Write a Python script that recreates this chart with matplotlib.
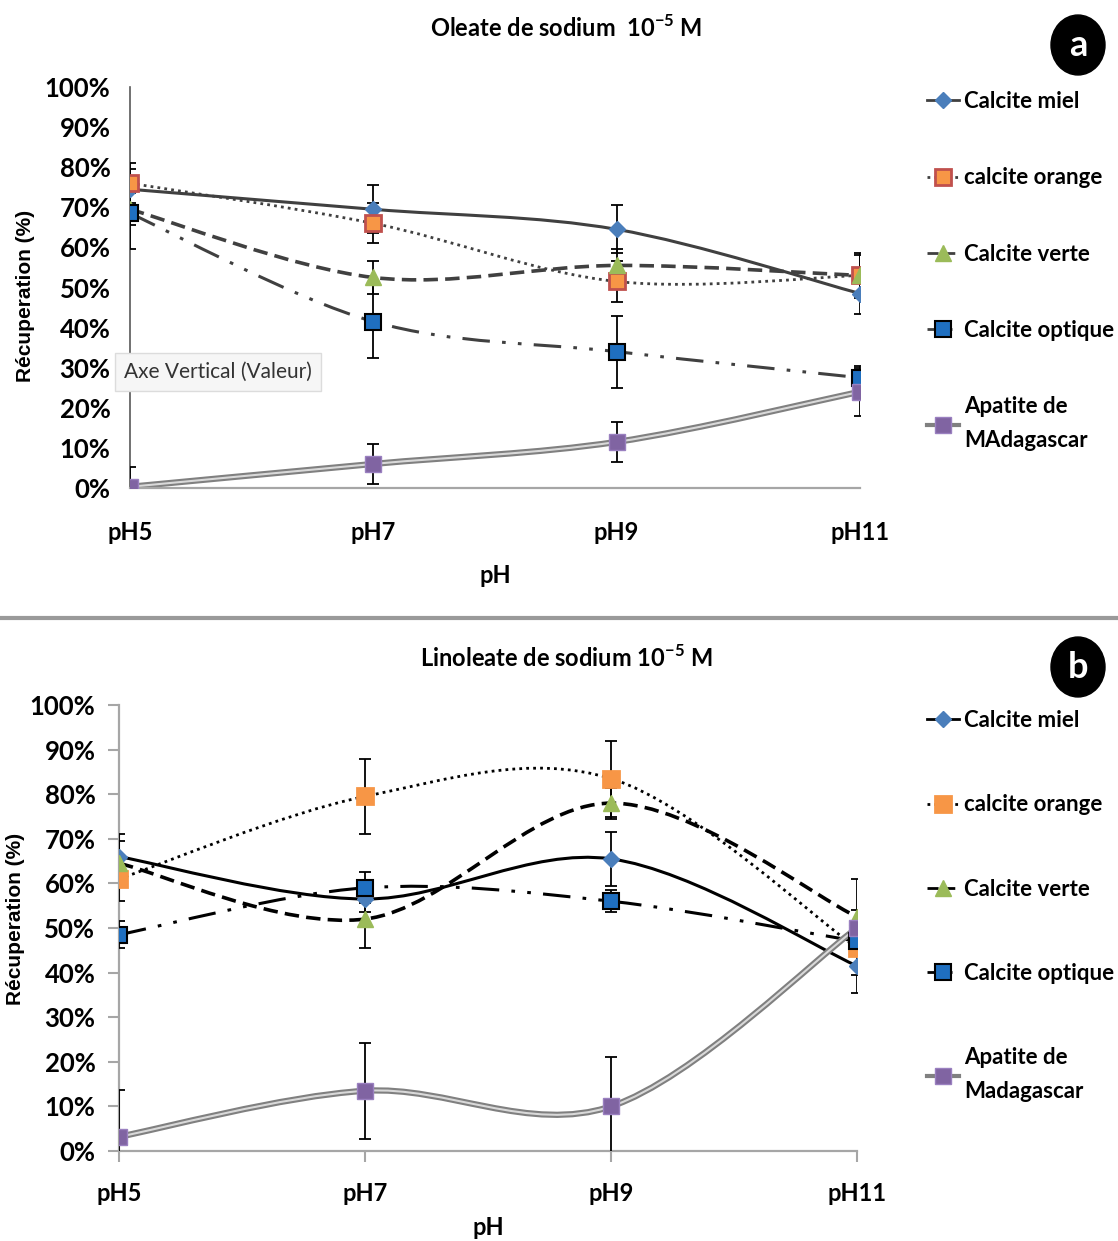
import matplotlib
matplotlib.use("Agg")
import matplotlib.pyplot as plt
import numpy as np
from matplotlib.path import Path
from matplotlib.patches import PathPatch, Circle
from matplotlib.lines import Line2D

# categories
ph_labels = ["pH5", "pH7", "pH9", "pH11"]
series_names_a = ["Calcite miel", "calcite orange", "Calcite verte", "Calcite optique", "Apatite de\nMAdagascar"]
series_names_b = ["Calcite miel", "calcite orange", "Calcite verte", "Calcite optique", "Apatite de\nMadagascar"]

# panel a : Oleate de sodium (recovery %)
a_miel = [74.5, 69.5, 64.5, 48.5]
a_orange = [76.0, 66.0, 51.5, 53.0]
a_verte = [69.5, 52.5, 55.5, 53.0]
a_optique = [68.5, 41.5, 34.0, 27.5]
a_apatite = [0.3, 6.0, 11.5, 24.0]
a_miel_err = [5.0, 6.0, 6.0, 5.0]
a_orange_err = [5.0, 5.0, 5.0, 5.5]
a_verte_err = [4.0, 4.0, 4.0, 5.0]
a_optique_err = [9.0, 9.0, 9.0, 3.0]
a_apatite_err = [5.0, 5.0, 5.0, 6.0]

# panel b : Linoleate de sodium (recovery %)
b_miel = [66.0, 56.5, 65.5, 41.5]
b_orange = [61.0, 79.5, 83.5, 45.5]
b_verte = [64.5, 52.0, 78.0, 52.5]
b_optique = [48.5, 59.0, 56.0, 47.0]
b_apatite = [3.2, 13.5, 10.0, 50.0]
b_miel_err = [5.0, 3.0, 6.0, 6.0]
b_orange_err = [5.0, 8.5, 8.5, 6.0]
b_verte_err = [5.0, 6.5, 3.5, 8.5]
b_optique_err = [3.0, 3.5, 2.5, 3.0]
b_apatite_err = [10.5, 10.8, 11.0, 4.0]

MAIN = ["Lato", "DejaVu Sans"]
plt.rcParams["font.family"] = MAIN
plt.rcParams["mathtext.fontset"] = "custom"
plt.rcParams["mathtext.rm"] = "Lato"
plt.rcParams["mathtext.bf"] = "Lato:bold"


def smooth_path(xs, ys):
    # Excel-like smoothed line: Catmull-Rom turned into cubic Bezier segments
    pts = np.column_stack([xs, ys]).astype(float)
    n = len(pts)
    verts = [pts[0]]
    codes = [Path.MOVETO]
    for i in range(n - 1):
        p0 = pts[i - 1] if i > 0 else pts[i]
        p1, p2 = pts[i], pts[i + 1]
        p3 = pts[i + 2] if i + 2 < n else pts[i + 1]
        c1 = p1 + (p2 - p0) / 6.0
        c2 = p2 - (p3 - p1) / 6.0
        verts += [c1, c2, p2]
        codes += [Path.CURVE4] * 3
    return Path(verts, codes)


def draw_series(ax, vals, errs, line_kw, marker_kw, double=False):
    x = np.arange(len(vals))
    path = smooth_path(x, vals)
    if double:
        ax.add_patch(PathPatch(path, fill=False, color="#808080", lw=4.5, zorder=2, capstyle="round"))
        ax.add_patch(PathPatch(path, fill=False, color="#d9d9d9", lw=1.5, zorder=2.1))
    else:
        ax.add_patch(PathPatch(path, fill=False, zorder=2, **line_kw))
    ax.errorbar(x, vals, yerr=errs, fmt="none", ecolor="black", elinewidth=1.3,
                capsize=4, capthick=1.3, zorder=3)
    ax.plot(x, vals, linestyle="none", zorder=4, **marker_kw)


fig = plt.figure(figsize=(11.18, 12.41), dpi=100)

ax_a = fig.add_axes([130 / 1118, 1 - 488 / 1241, 730 / 1118, 401 / 1241])
ax_b = fig.add_axes([119 / 1118, 1 - 1151 / 1241, 738 / 1118, 446 / 1241])

line_dark = "#404040"
styles = {
    "miel": dict(linestyle="-", lw=2.2),
    "orange": dict(linestyle=(0, (1, 1.5)), lw=2.0),
    "verte": dict(linestyle=(0, (4, 2)), lw=2.6),
    "optique": dict(linestyle=(0, (9, 4, 1.2, 4, 1.2, 4)), lw=2.2),
}


def markers(panel):
    orange_edge = "#c0504d" if panel == "a" else "#f79646"
    return {
        "miel": dict(marker="D", ms=8, mfc="#4a7ebb", mec="#4a7ebb"),
        "orange": dict(marker="s", ms=11, mfc="#f79646", mec=orange_edge, mew=2),
        "verte": dict(marker="^", ms=11, mfc="#9bbb59", mec="#9bbb59"),
        "optique": dict(marker="s", ms=11, mfc="#1f6fc0", mec="black", mew=1.5),
        "apatite": dict(marker="s", ms=12, mfc="#8064a2", mec="#9a80c0", mew=1),
    }


panels = [
    (ax_a, "a", line_dark,
     [a_miel, a_orange, a_verte, a_optique, a_apatite],
     [a_miel_err, a_orange_err, a_verte_err, a_optique_err, a_apatite_err]),
    (ax_b, "b", "black",
     [b_miel, b_orange, b_verte, b_optique, b_apatite],
     [b_miel_err, b_orange_err, b_verte_err, b_optique_err, b_apatite_err]),
]

keys = ["miel", "orange", "verte", "optique", "apatite"]

for ax, tag, lcol, vals_list, err_list in panels:
    mk = markers(tag)
    for key, vals, errs in zip(keys, vals_list, err_list):
        if key == "apatite":
            draw_series(ax, vals, errs, None, mk[key], double=True)
        else:
            kw = dict(styles[key])
            kw["color"] = lcol
            draw_series(ax, vals, errs, kw, mk[key])
    ax.set_xlim(0, 3)
    ax.set_ylim(0, 100)
    ax.set_yticks(np.arange(0, 101, 10))
    ax.set_yticklabels([f"{v}%" for v in range(0, 101, 10)], fontsize=18.5, fontweight="bold")
    ax.set_xticks(range(4))
    ax.set_xticklabels(ph_labels, fontsize=17, fontweight="bold")
    for s in ["top", "right"]:
        ax.spines[s].set_visible(False)
    ax.spines["bottom"].set_color("#a6a6a6")
    ax.spines["bottom"].set_linewidth(1.6)
    ax.set_xlabel("pH", fontsize=17, fontweight="bold", labelpad=14)
    ax.set_ylabel("Récuperation (%)", fontsize=15, fontweight="bold",
                  family=["Liberation Sans", "DejaVu Sans"], labelpad=10)
    ax.set_facecolor("none")

    # legend
    handles = []
    for key in keys:
        if key == "apatite":
            h = Line2D([], [], color="#808080", lw=3, **mk[key])
        else:
            h = Line2D([], [], color=lcol, lw=2, linestyle=styles[key]["linestyle"], **mk[key])
        handles.append(h)
    names = series_names_a if tag == "a" else series_names_b
    top = 80 if tag == "a" else 699
    spacing = 2.49 if tag == "a" else 2.85
    leg = fig.legend(handles, names, loc="upper left",
                     bbox_to_anchor=(916 / 1118, 1 - top / 1241), frameon=False,
                     handlelength=1.45, handletextpad=0.2,
                     labelspacing=spacing, borderpad=0,
                     prop=dict(family=MAIN, weight="bold", size=16))
    for t in leg.get_texts():
        t.set_linespacing(1.75)

# panel a styling
ax_a.spines["left"].set_color("#595959")
ax_a.spines["left"].set_linewidth(1.2)
ax_a.tick_params(axis="both", length=0)
ax_a.tick_params(axis="y", pad=14)
ax_a.tick_params(axis="x", pad=24)
ax_a.yaxis.set_label_coords(-0.13, 0.48)

# panel b styling
ax_b.spines["left"].set_color("#a6a6a6")
ax_b.spines["left"].set_linewidth(1.6)
ax_b.tick_params(axis="both", length=8, width=1.5, color="#a6a6a6")
ax_b.tick_params(axis="y", pad=9)
ax_b.tick_params(axis="x", pad=14)
ax_b.xaxis.labelpad = 8
ax_b.yaxis.set_label_coords(-0.127, 0.52)

# titles
fig.text(566 / 1118, 1 - 28 / 1241, r"Oleate de sodium  10$^{\mathbf{-5}}$ M",
         ha="center", va="center", fontsize=17, fontweight="bold")
fig.text(566 / 1118, 1 - 658 / 1241, r"Linoleate de sodium 10$^{\mathbf{-5}}$ M",
         ha="center", va="center", fontsize=17, fontweight="bold")

# panel letters
for letter, yc in [("a", 45), ("b", 667)]:
    fig.patches.append(Circle((1078 / 1118, 1 - yc / 1241), 27 / 1118,
                              transform=fig.transFigure, color="black"))
    fig.text(1078 / 1118, 1 - yc / 1241, letter, ha="center", va="center",
             color="white", fontsize=26, fontweight="bold")

# separator between the two charts
fig.add_artist(Line2D([0, 1], [1 - 618 / 1241] * 2, transform=fig.transFigure,
                      color="#9a9a9a", lw=3))

# tooltip left in the screenshot
fig.text(124 / 1118, 1 - 372 / 1241, "Axe Vertical (Valeur)", ha="left", va="center",
         fontsize=15, color="#333333", family=MAIN,
         bbox=dict(boxstyle="square,pad=0.45", fc="#f6f6f6", ec="#dcdcdc", lw=1))

fig.savefig("out.png", dpi=100, facecolor="white")
